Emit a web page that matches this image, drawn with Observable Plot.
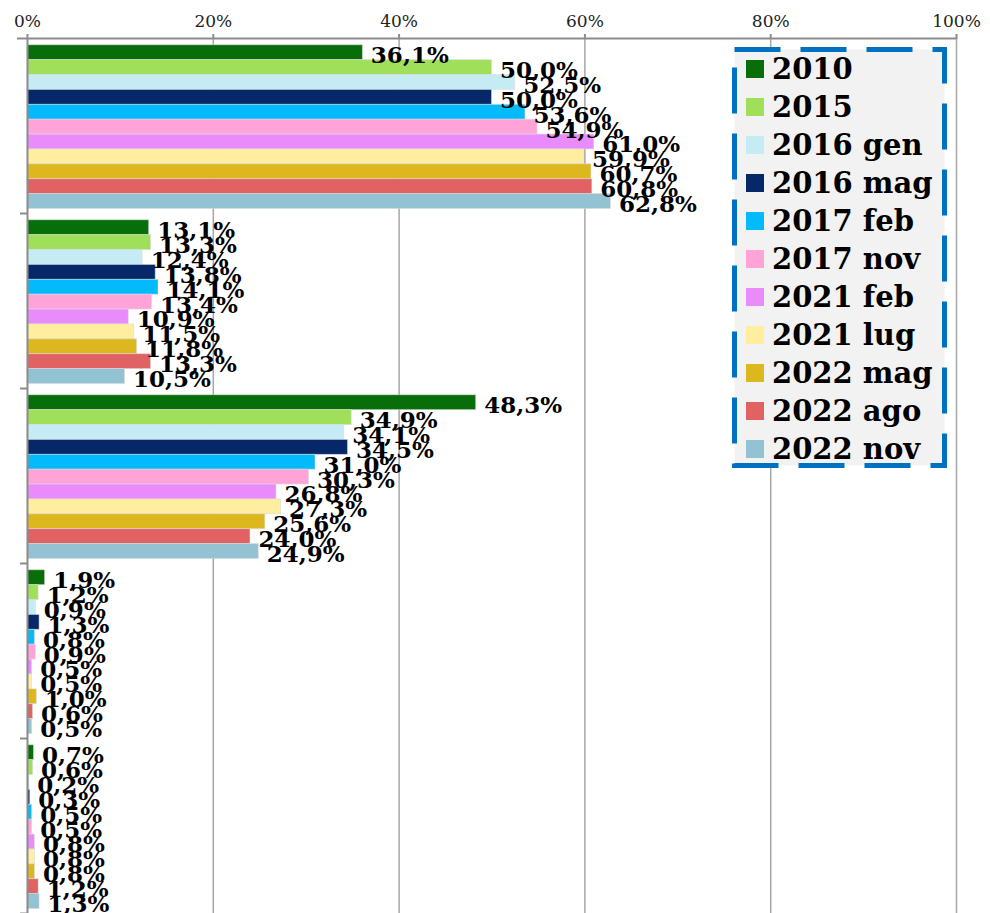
<!DOCTYPE html>
<html>
<head>
<meta charset="utf-8">
<script src="https://cdn.jsdelivr.net/npm/d3@7"></script>
<script src="https://cdn.jsdelivr.net/npm/@observablehq/plot@0.6"></script>
<style>
  html, body { margin: 0; padding: 0; background: #fff; }
  #wrap { position: relative; width: 990px; height: 913px; overflow: hidden; }
  #chart svg { display: block; }
  #legend { position: absolute; left: 732px; top: 47px; width: 215px; height: 421px; }
  #legend svg.frame { position: absolute; left: 0; top: 0; }
  #legend .rows { position: absolute; left: 14px; top: 3px; }
  #legend .row { display: flex; align-items: center; height: 38px; font-family: "DejaVu Serif", serif; font-weight: bold; font-size: 29px; color: #000; white-space: nowrap; }
  #legend .sw { width: 18px; height: 18px; margin-right: 8px; flex: none; }
</style>
</head>
<body>
<div id="wrap">
  <div id="chart"></div>
  <div id="legend"></div>
</div>
<script>
const groups = ["Gruppo 1", "Gruppo 2", "Gruppo 3", "Gruppo 4", "Gruppo 5"];
const series = ["2010", "2015", "2016 gen", "2016 mag", "2017 feb", "2017 nov", "2021 feb", "2021 lug", "2022 mag", "2022 ago", "2022 nov"];
const colors = ["#086e0a", "#a0df5a", "#c5ecf5", "#062868", "#02bafc", "#ffa3d9", "#ea8bfc", "#ffeda0", "#dcb71e", "#e06262", "#93c2d3"];
const group1 = [36.1, 50.0, 52.5, 50.0, 53.6, 54.9, 61.0, 59.9, 60.7, 60.8, 62.8];
const group2 = [13.1, 13.3, 12.4, 13.8, 14.1, 13.4, 10.9, 11.5, 11.8, 13.3, 10.5];
const group3 = [48.3, 34.9, 34.1, 34.5, 31.0, 30.3, 26.8, 27.3, 25.6, 24.0, 24.9];
const group4 = [1.9, 1.2, 0.9, 1.3, 0.8, 0.9, 0.5, 0.5, 1.0, 0.6, 0.5];
const group5 = [0.7, 0.6, 0.2, 0.3, 0.5, 0.5, 0.8, 0.8, 0.8, 1.2, 1.3];
const xTicks = [0, 20, 40, 60, 80, 100];

const groupValues = [group1, group2, group3, group4, group5];
const data = groups.flatMap((g, gi) => series.map((s, si) => ({g, s, v: groupValues[gi][si]})));
const fmt = v => v.toFixed(1).replace(".", ",") + "%";

const W = 990, H = 913, mTop = 38, mLeft = 27, mRight = 34, mBottom = 0;
const padOuter = 0.38, align = 0.6;
const facetH = (H - mTop - mBottom) / groups.length;
const step = facetH / (series.length + 2 * padOuter);
const extra = facetH - step * series.length;
const topOff = step / 2 + extra * align;
const botOff = step / 2 + extra * (1 - align);

const chart = Plot.plot({
  width: W, height: H,
  marginTop: mTop, marginLeft: mLeft, marginRight: mRight, marginBottom: mBottom,
  x: {domain: [0, 100], axis: null, label: null},
  y: {domain: series, paddingInner: 0, paddingOuter: padOuter, align, round: false, axis: null, label: null},
  fy: {domain: groups, padding: 0, round: false, axis: null, label: null},
  color: {domain: series, range: colors},
  style: {fontFamily: "DejaVu Serif", background: "white", overflow: "visible"},
  marks: [
    Plot.ruleX(xTicks.filter(d => d > 0), {stroke: "#a6a6a6", strokeWidth: 1.5}),
    Plot.barX(data, {x: "v", y: "s", fy: "g", fill: "s", stroke: "#dcdcdc", strokeWidth: 0.8, strokeOpacity: 0.7}),
    Plot.ruleX([0], {stroke: "#8c8c8c", strokeWidth: 2}),
    Plot.ruleY(groups.map(g => ({g, s: series[series.length - 1]})), {fy: "g", y: "s", dy: botOff, x1: 0, x2: 0, insetLeft: -7, stroke: "#8c8c8c", strokeWidth: 2}),
    Plot.ruleY([{g: groups[0], s: series[0]}], {fy: "g", y: "s", dy: -topOff, x1: 0, x2: 100, insetLeft: -10, stroke: "#8c8c8c", strokeWidth: 2}),
    Plot.axisX({anchor: "top", ticks: xTicks, tickFormat: d => d + "%", label: null, tickSize: 5, tickPadding: 7, fontSize: 17, stroke: "#8c8c8c", strokeWidth: 2, fill: "#222"}),
    Plot.text(data, {x: "v", y: "s", fy: "g", text: d => fmt(d.v), textAnchor: "start", dx: 8, dy: 3, fontSize: 23, fontWeight: "bold", fill: "#000"})
  ]
});
document.getElementById("chart").appendChild(chart);

// Legend
const lg = d3.select("#legend");
const lw = 215, lh = 421;
const fsvg = lg.append("svg").attr("class", "frame").attr("width", lw).attr("height", lh);
fsvg.append("rect").attr("x", 2.5).attr("y", 2.5).attr("width", lw - 5).attr("height", lh - 5)
  .attr("fill", "#f2f2f2").attr("stroke", "#0070c0").attr("stroke-width", 5)
  .attr("stroke-dasharray", "46 20").attr("stroke-dashoffset", 0);
const rows = lg.append("div").attr("class", "rows");
series.forEach((s, i) => {
  const r = rows.append("div").attr("class", "row");
  r.append("div").attr("class", "sw").style("background", colors[i]);
  r.append("span").text(s);
});
</script>
</body>
</html>
